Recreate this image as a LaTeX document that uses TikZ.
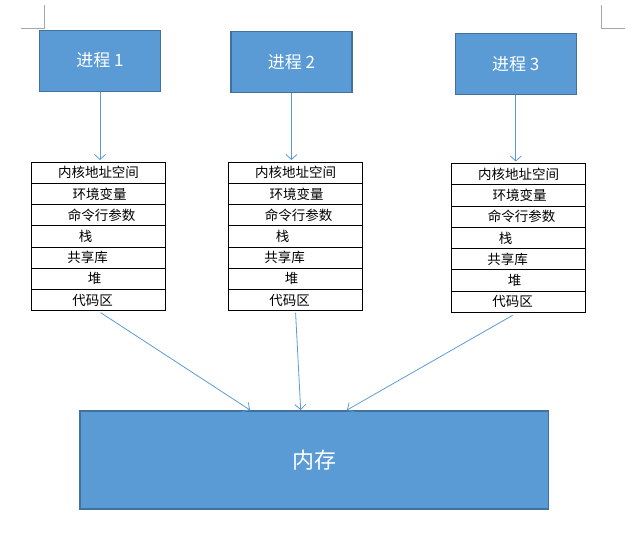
\documentclass[tikz,border=0pt]{standalone}
\usepackage{fontspec}
\setmainfont{Noto Sans CJK SC}
\usetikzlibrary{arrows.meta,calc}
\definecolor{boxfill}{HTML}{5B9BD5}
\definecolor{boxline}{HTML}{41719C}
\definecolor{arrowc}{HTML}{5B9BD5}
\definecolor{markc}{HTML}{A6A6A6}
\begin{document}
\begin{tikzpicture}[x=1pt,y=-1pt,
  proc/.style={draw=boxline,line width=1.2pt,fill=boxfill,text=white,minimum width=121pt,minimum height=61pt,inner sep=0pt,font=\fontsize{17}{20}\selectfont},
  memstyle/.style={draw=boxline,line width=1.2pt,fill=boxfill,text=white,minimum width=468.7pt,minimum height=98pt,inner sep=0pt,font=\fontsize{22}{26}\selectfont},
  rowbox/.style={draw=black,line width=1pt,minimum width=134pt,minimum height=21.25pt,inner sep=0pt},
  celltext/.style={font=\fontsize{13.5}{15}\selectfont,inner sep=0pt},
  link/.style={draw=arrowc,line width=0.8pt,-{Straight Barb[length=5pt,width=11pt]}},
  cornermark/.style={draw=markc,line width=1pt}
]
\useasboundingbox (0,0) rectangle (641,536);
% corner marks
\coordinate (ca) at (44,5);
\coordinate (cb) at (44,28);
\coordinate (cc) at (21,28);
\draw[cornermark] (ca) -- (cb) -- (cc);
\coordinate (cd) at (601.5,5);
\coordinate (ce) at (601.5,28);
\coordinate (cf) at (625,28);
\draw[cornermark] (cd) -- (ce) -- (cf);
% process boxes
\node[proc] (p1) at (100,60.6) {进程 1};
\node[proc] (p2) at (291.4,61.8) {进程 2};
\node[proc] (p3) at (515.8,63.8) {进程 3};
% tables
\foreach \t/\L/\T in {1/31.5/162,2/228.5/162,3/451.7/163.5}{
  \foreach \i/\txt/\dx in {1/内核地址空间/0,2/环境变量/1,3/命令行参数/3,4/栈/-13,5/共享库/-11,6/堆/-4,7/代码区/-6}{
    \node[rowbox] (t\t-\i) at (\L+67, \T+21.25*\i-10.625) {};
    \node[celltext] (x\t-\i) at ($(t\t-\i.center)+(\dx,0)$) {\txt};
  }
}
% memory
\node[memstyle] (mem) at (314.4,460) {内存};
% arrows down to tables
\draw[link,shorten >=1.5pt] (p1.south) -- (p1.south |- t1-1.north);
\draw[link,shorten >=1.5pt] (p2.south) -- (p2.south |- t2-1.north);
\draw[link,shorten >=1.5pt] (p3.south) -- (p3.south |- t3-1.north);
% arrows to memory
\coordinate (e1) at (250,410);
\coordinate (e2) at (300.7,410);
\coordinate (e3) at (347,410);
\draw[link,shorten <=2.5pt] (t1-7.south) -- (e1);
\draw[link,shorten <=1.5pt] (t2-7.south) -- (e2);
\draw[link] ($(t3-7.south)+(-6,2.5)$) -- (e3);
\end{tikzpicture}
\end{document}
